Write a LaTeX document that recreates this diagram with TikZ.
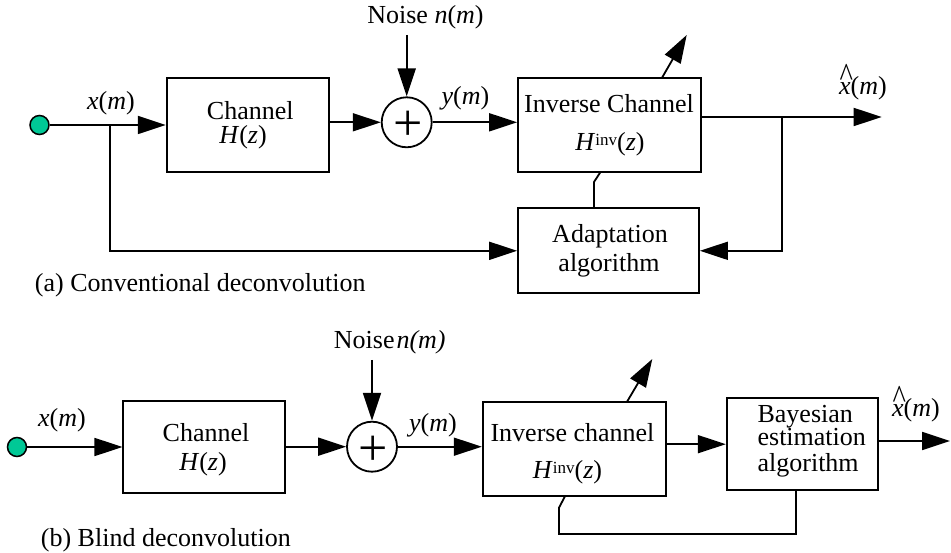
\documentclass[tikz,border=0pt]{standalone}
\usepackage{fontspec}
\setmainfont{Liberation Serif}
\usetikzlibrary{arrows.meta}
\definecolor{srcgreen}{RGB}{0,200,150}
\newcommand{\Hinv}{\textit{H}\raisebox{4.5pt}{\fontsize{17}{17}\selectfont inv}(\textit{z})}
\newcommand{\xhat}{\makebox[0pt][l]{\kern0.5pt\raisebox{8pt}{\scalebox{1.1}[1.3]{\textasciicircum}}}\textit{x}(\textit{m})}
\begin{document}
\begin{tikzpicture}[x=1pt,y=-1pt,line width=1.8pt,
  every node/.style={font=\fontsize{26}{28}\selectfont, inner sep=0pt},
  blk/.style={draw, line width=1.8pt, minimum width=#1},
  arr/.style={-{Triangle[length=28pt,width=18pt]}},
  sumnode/.style={draw, circle, minimum size=50pt},
  srcnode/.style={draw, circle, fill=srcgreen, line width=1.5pt, minimum size=19pt},
  plus/.style={font=\fontsize{52}{52}\selectfont},
  lbl/.style={anchor=base},
  lblw/.style={anchor=base west}]
\useasboundingbox (0,0) rectangle (951,553);

% ---------------- (a) ----------------
\node[srcnode] (srcA) at (39.5,125) {};
\node[blk=162.3pt, minimum height=93.4pt] (chA) at (247.8,125) {};
\node[sumnode] (sumA) at (406.7,122.3) {};
\node[plus] (plusA) at (408.2,126) {+};
\node[blk=183pt, minimum height=93.4pt] (invA) at (609.5,125) {};
\node[blk=181pt, minimum height=85pt] (adA) at (608.5,250.8) {};

\node[lbl] (xA) at (111,110) {\textit{x}(\textit{m})};
\node[lbl] (chAt1) at (250.3,119.5) {Channel};
\node[lbl] (chAt2) at (243,144) {\textit{H}(\textit{z})};
\node[lbl] (nzAt) at (425.5,24) {Noise \textit{n}(\textit{m})};
\node[lbl] (yA) at (465.5,104.5) {\textit{y}(\textit{m})};
\node[lbl] (invAt1) at (609,112.5) {Inverse Channel};
\node[lbl] (invAt2) at (610,150.5) {\Hinv};
\node[lbl] (xhA) at (863,95) {\xhat};
\node[lbl] (adAt1) at (610,243) {Adaptation};
\node[lbl] (adAt2) at (609,271.7) {algorithm};
\node[lblw] (capA) at (34,292) {(a) Conventional deconvolution};

\coordinate (brA) at (110,125);
\coordinate (nzA) at (406.7,35);
\coordinate (dA1) at (661.7,78.3);
\coordinate (dA2) at (686.7,35);
\coordinate (outA) at (881.7,117);
\coordinate (fbA) at (782,117);
\coordinate (kA1) at (600.7,171.7);
\coordinate (kA2) at (594,182);

\draw[arr] (srcA.east) -- (chA.west);
\draw[arr] (brA) |- (adA.west);
\draw[arr] (chA.east |- sumA.west) -- (sumA.west);
\draw[arr] (nzA) -- (sumA.north);
\draw[arr] (sumA.east) -- (invA.west |- sumA.east);
\draw[arr] (dA1) -- (dA2);
\draw[arr] (invA.east |- outA) -- (outA);
\draw[arr] (fbA) |- (adA.east);
\draw (kA1) -- (kA2) -- (kA2 |- adA.north);

% ---------------- (b) ----------------
\node[srcnode] (srcB) at (17,447) {};
\node[blk=161.7pt, minimum height=92.6pt] (chB) at (204.2,447) {};
\node[sumnode] (sumB) at (372,446.7) {};
\node[plus] (plusB) at (373.5,451) {+};
\node[blk=183pt, minimum height=93.4pt] (invB) at (574.2,449) {};
\node[blk=151.6pt, minimum height=91.7pt] (bayB) at (802.5,444.2) {};

\node[lbl] (xB) at (62,426.7) {\textit{x}(\textit{m})};
\node[lbl] (chBt1) at (206,441.7) {Channel};
\node[lbl] (chBt2) at (203,470) {\textit{H}(\textit{z})};
\node[lblw] (nzBt) at (333,349) {Noise\kern2pt\textit{n(m)}};
\node[lbl] (yB) at (433,431.7) {\textit{y}(\textit{m})};
\node[lbl] (invBt1) at (572.5,442) {Inverse channel};
\node[lbl] (invBt2) at (567.5,478) {\Hinv};
\node[lblw] (bayBt1) at (756.7,422.7) {Bayesian};
\node[lblw] (bayBt2) at (756.7,445.7) {estimation};
\node[lblw] (bayBt3) at (756.7,471) {algorithm};
\node[lbl] (xhB) at (916,416.7) {\xhat};
\node[lblw] (capB) at (40,546.7) {(b) Blind deconvolution};

\coordinate (nzB) at (372,360);
\coordinate (dB1) at (626.7,402.3);
\coordinate (dB2) at (652.3,359);
\coordinate (outB) at (950,441);
\coordinate (fbB0) at (796,534);
\coordinate (fbB2) at (559,534);
\coordinate (fbB3) at (559,507.7);
\coordinate (fbB4) at (565.3,495.7);

\draw[arr] (srcB.east) -- (chB.west);
\draw[arr] (chB.east |- sumB.west) -- (sumB.west);
\draw[arr] (nzB) -- (sumB.north);
\draw[arr] (sumB.east) -- (invB.west |- sumB.east);
\draw[arr] (dB1) -- (dB2);
\draw[arr] (invB.east |- bayB.west) -- (bayB.west);
\draw[arr] (bayB.east |- outB) -- (outB);
\draw (bayB.south -| fbB0) -- (fbB0) -- (fbB2) -- (fbB3) -- (fbB4);
\end{tikzpicture}
\end{document}
